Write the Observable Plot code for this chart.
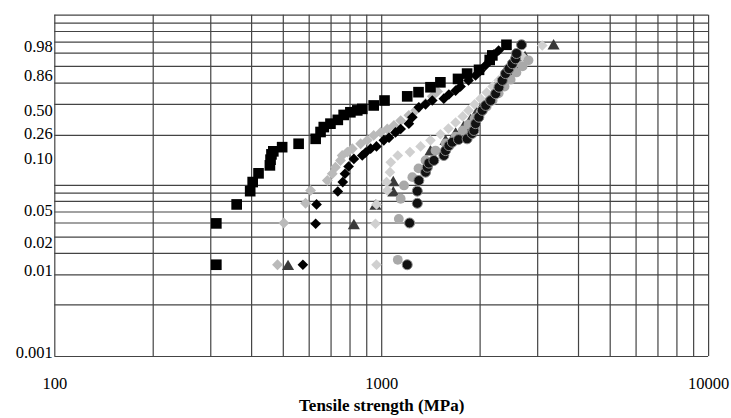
<!DOCTYPE html>
<html><head><meta charset="utf-8">
<script src="https://cdn.jsdelivr.net/npm/d3@7"></script>
<script src="https://cdn.jsdelivr.net/npm/@observablehq/plot@0.6"></script>
<style>body{margin:0;background:#fff}</style>
</head><body><div id="chart"></div>
<script>
// y values are Weibull units ln(-ln(1-F)); x values tensile strength in MPa
const squaresStrength = [312, 312, 360, 396, 403, 420, 455, 457, 460, 466, 496, 557, 628, 650, 665, 697, 734, 765, 802, 842, 872, 945, 1020, 1197, 1296, 1410, 1512, 1712, 1825, 1985, 2140, 2180, 2408];
const squaresWeibull = [-4.58, -3.49, -2.99, -2.64, -2.40, -2.17, -1.96, -1.81, -1.67, -1.59, -1.48, -1.39, -1.26, -1.08, -0.95, -0.86, -0.76, -0.63, -0.56, -0.51, -0.47, -0.38, -0.25, -0.14, -0.03, 0.10, 0.23, 0.32, 0.46, 0.56, 0.82, 0.94, 1.22];

const diamondsStrength = [574, 628, 632, 734, 760, 772, 792, 822, 872, 893, 925, 964, 1015, 1053, 1102, 1143, 1211, 1241, 1299, 1362, 1428, 1549, 1605, 1683, 1743, 1843, 1937, 2006, 2080, 2140, 2198, 2279];
const diamondsWeibull = [-4.58, -3.50, -2.99, -2.65, -2.40, -2.18, -1.99, -1.79, -1.70, -1.62, -1.52, -1.46, -1.30, -1.23, -1.09, -1.00, -0.86, -0.69, -0.43, -0.35, -0.25, -0.20, -0.09, 0.01, 0.12, 0.28, 0.41, 0.54, 0.68, 0.81, 0.96, 1.07];

const greyDiamondsStrength = [480, 502, 585, 606, 682, 706, 722, 748, 757, 785, 813, 862, 903, 945, 992, 1040, 1090, 1143, 1211, 1270, 1362, 1428, 1482];
const greyDiamondsWeibull = [-4.58, -3.48, -2.96, -2.62, -2.36, -2.18, -2.01, -1.83, -1.70, -1.61, -1.52, -1.39, -1.30, -1.17, -1.09, -1.00, -0.91, -0.78, -0.64, -0.51, -0.33, -0.14, -0.01];

const trianglesStrength = [517, 822, 957, 1085, 1085, 1410, 1568, 1683, 1782, 1870, 1950, 2036, 2125, 2215, 2311, 2410, 2514, 2621, 2745, 3356];
const trianglesWeibull = [-4.63, -3.55, -3.04, -2.69, -2.42, -1.61, -1.33, -1.14, -0.96, -0.78, -0.59, -0.41, -0.22, -0.04, 0.15, 0.33, 0.51, 0.70, 0.88, 1.19];

const paleDiamondsStrength = [964, 957, 964, 1040, 1035, 1060, 1066, 1120, 1220, 1315, 1410, 1512, 1600, 1683, 1770, 1843, 1923, 2006, 2095, 2184, 2279, 2376, 2480, 2583, 2697, 3099];
const paleDiamondsWeibull = [-4.58, -3.50, -2.99, -2.62, -2.40, -2.14, -1.88, -1.70, -1.61, -1.46, -1.30, -1.14, -0.99, -0.83, -0.67, -0.51, -0.35, -0.20, -0.04, 0.12, 0.28, 0.44, 0.59, 0.75, 0.91, 1.20];

const greyCirclesStrength = [1120, 1128, 1143, 1170, 1241, 1296, 1362, 1461, 1568, 1683, 1770, 1843, 1923, 2006, 2095, 2184, 2279, 2376, 2480, 2583, 2697, 2812];
const greyCirclesWeibull = [-4.45, -3.37, -2.84, -2.49, -2.27, -2.04, -1.83, -1.57, -1.38, -1.20, -1.04, -0.88, -0.72, -0.57, -0.41, -0.25, -0.06, 0.12, 0.30, 0.49, 0.65, 0.81];

const circlesStrength = [1197, 1217, 1285, 1285, 1299, 1362, 1379, 1394, 1444, 1549, 1568, 1605, 1644, 1718, 1825, 1890, 1914, 1937, 1982, 2031, 2080, 2154, 2231, 2284, 2339, 2392, 2449, 2509, 2567, 2585, 2678];
const circlesWeibull = [-4.58, -3.48, -2.96, -2.64, -2.36, -2.14, -2.01, -1.90, -1.83, -1.70, -1.57, -1.44, -1.35, -1.28, -1.26, -1.12, -1.04, -0.86, -0.69, -0.51, -0.38, -0.25, -0.07, 0.10, 0.28, 0.46, 0.59, 0.72, 0.85, 0.99, 1.22];

const xTicks = [100, 1000, 10000];
const xGrid = [100, 200, 300, 400, 500, 600, 700, 800, 900, 1000, 2000, 3000, 4000, 5000, 6000, 7000, 8000, 9000, 10000];
const yDomain = [-7, 2];
const yGrid = [-7, -5.64, -4.85, -4.28, -3.85, -3.48, -3.19, -2.91, -2.69, -2.49, -1.17, -0.35, 0.21, 0.65, 1.00, 1.29, 1.57, 1.79, 2];
const yTickValues = [-6.91, -4.73, -3.99, -3.15, -1.79, -1.12, -0.51, 0.41, 1.18];
const yTickLabels = ["0.001", "0.01", "0.02", "0.05", "0.10", "0.26", "0.50", "0.86", "0.98"];
const xLabel = "Tensile strength (MPa)";

const series = [
  {strength: trianglesStrength, weibull: trianglesWeibull, symbol: "triangle", fill: "#3a3a3a", stroke: "none", r: 4.5},
  {strength: paleDiamondsStrength, weibull: paleDiamondsWeibull, symbol: "diamond2", fill: "#d0d0d0", stroke: "none", r: 4.8},
  {strength: greyCirclesStrength, weibull: greyCirclesWeibull, symbol: "circle", fill: "#a9a9a9", stroke: "none", r: 4.9},
  {strength: greyDiamondsStrength, weibull: greyDiamondsWeibull, symbol: "diamond2", fill: "#bababa", stroke: "none", r: 4.9},
  {strength: circlesStrength, weibull: circlesWeibull, symbol: "circle", fill: "#111", stroke: "#8a8a8a", r: 5},
  {strength: diamondsStrength, weibull: diamondsWeibull, symbol: "diamond2", fill: "#000", stroke: "none", r: 4.8},
  {strength: squaresStrength, weibull: squaresWeibull, symbol: "square", fill: "#000", stroke: "none", r: 6}
];

const chart = Plot.plot({
  width: 731,
  height: 418,
  marginLeft: 54.3,
  marginRight: 22.9,
  marginTop: 14.7,
  marginBottom: 62,
  style: {fontFamily: "'Liberation Serif', 'Times New Roman', serif", fontSize: "16.5px", background: "#fff", color: "#000"},
  x: {type: "log", domain: [100, 10000], ticks: xTicks, tickFormat: d => String(d), tickSize: 0, tickPadding: 21, label: null},
  y: {domain: yDomain, ticks: yTickValues, tickFormat: d => yTickLabels[yTickValues.indexOf(d)], tickSize: 0, tickPadding: 2, label: null},
  marks: [
    Plot.ruleX(xGrid, {stroke: "#444", strokeWidth: 1.2}),
    Plot.ruleY(yGrid, {stroke: "#444", strokeWidth: 1.2}),
    ...series.map(s => Plot.dot(s.strength.map((v, i) => ({strength: v, weibull: s.weibull[i]})), {
      x: "strength", y: "weibull", symbol: s.symbol, fill: s.fill, stroke: s.stroke, strokeWidth: 1, r: s.r
    })),
    Plot.text([xLabel], {frameAnchor: "bottom", dy: 54, fontWeight: "bold", fontSize: 17, fill: "#000"})
  ]
});
document.getElementById("chart").appendChild(chart);
</script>
</body></html>
